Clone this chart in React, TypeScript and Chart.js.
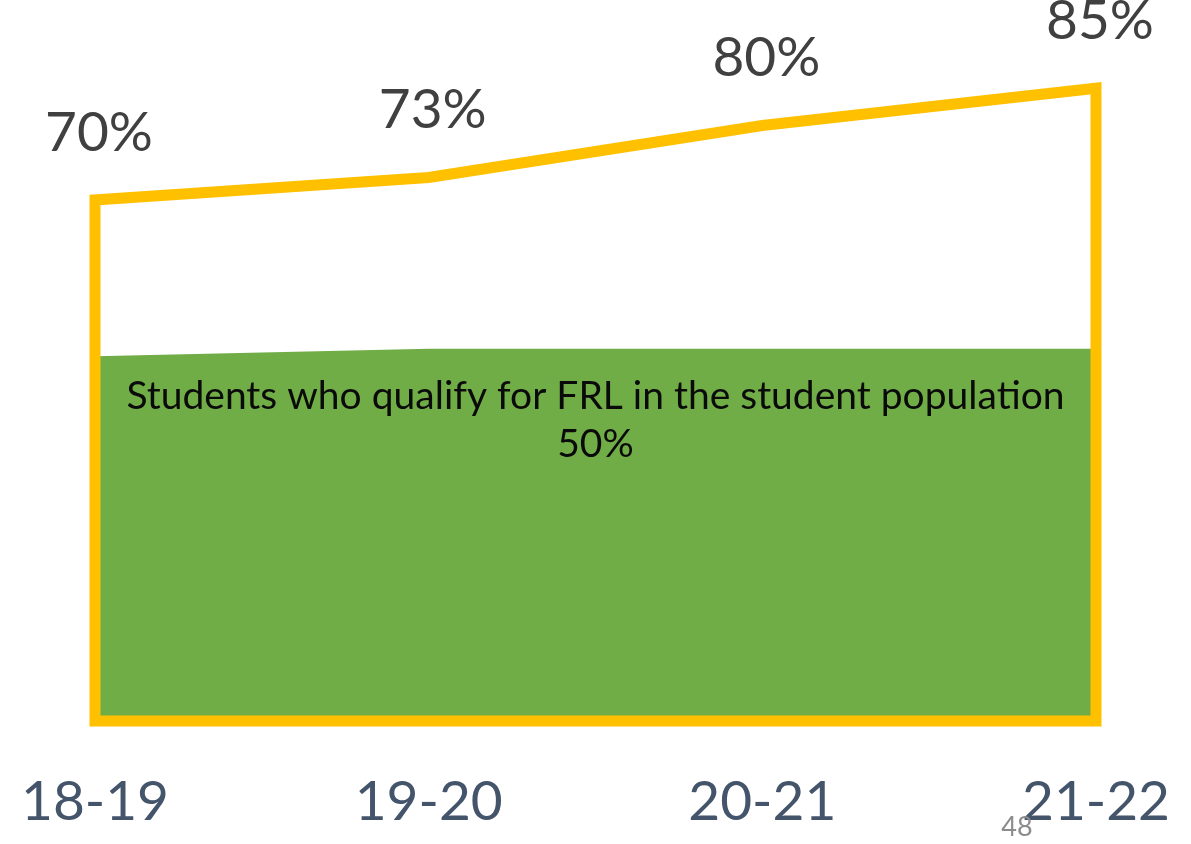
import React, { useEffect, useRef } from "react";
import { Chart, registerables } from "chart.js";

Chart.register(...registerables);

const categories = ["18-19", "19-20", "20-21", "21-22"];
const frlRates = [70, 73, 80, 85];
const populationRates = [49, 50, 50, 50];
const populationLabel = "Students who qualify for FRL in the student population";
const populationValueLabel = "50%";
const pageNumber = "48";

const FONT = "Lato, 'Open Sans', sans-serif";

export default function App() {
  const ref = useRef<HTMLCanvasElement | null>(null);

  useEffect(() => {
    if (!ref.current) return;

    const outline = [
      { x: 0, y: 0 },
      ...frlRates.map((v, i) => ({ x: i, y: v })),
      { x: frlRates.length - 1, y: 0 },
      { x: 0, y: 0 },
    ];
    const green = populationRates.map((v, i) => ({ x: i, y: v }));

    const labelsPlugin = {
      id: "labelsPlugin",
      afterDatasetsDraw(chart: any) {
        const { ctx, scales } = chart;
        const xs = scales.x;
        const ys = scales.y;
        ctx.save();
        ctx.font = `55px ${FONT}`;
        ctx.fillStyle = "#404040";
        ctx.textAlign = "center";
        ctx.textBaseline = "middle";
        frlRates.forEach((v, i) => {
          ctx.fillText(`${v}%`, xs.getPixelForValue(i) + 4, ys.getPixelForValue(v) - 67);
        });
        const cx = (chart.chartArea.left + chart.chartArea.right) / 2;
        const gy = ys.getPixelForValue(populationRates[populationRates.length - 1]);
        ctx.font = `39px ${FONT}`;
        ctx.fillStyle = "#0a0a0a";
        ctx.fillText(populationLabel, cx, gy + 48);
        ctx.fillText(populationValueLabel, cx, gy + 96);
        ctx.restore();
      },
      afterDraw(chart: any) {
        const { ctx } = chart;
        ctx.save();
        ctx.font = `27px ${FONT}`;
        ctx.fillStyle = "#8c8c8c";
        ctx.textAlign = "center";
        ctx.textBaseline = "middle";
        ctx.fillText(pageNumber, 1017, 827);
        ctx.restore();
      },
    };

    const chart = new Chart(ref.current, {
      type: "line",
      data: {
        datasets: [
          {
            label: "FRL",
            data: outline,
            borderColor: "#FFC000",
            borderWidth: 11,
            borderJoinStyle: "miter",
            borderCapStyle: "square",
            fill: false,
            pointRadius: 0,
            tension: 0,
            order: 0,
            clip: false,
          },
          {
            label: "Population",
            data: green,
            borderWidth: 0,
            borderColor: "rgba(0,0,0,0)",
            backgroundColor: "#70AD47",
            fill: "origin",
            pointRadius: 0,
            tension: 0,
            order: 1,
          },
        ],
      },
      options: {
        responsive: false,
        animation: false,
        layout: { padding: { left: 95, right: 95, top: 51, bottom: 9 } },
        plugins: { legend: { display: false }, tooltip: { enabled: false } },
        scales: {
          x: {
            type: "linear",
            min: 0,
            max: categories.length - 1,
            grid: { display: false, drawTicks: false },
            border: { display: false },
            afterFit: (scale: any) => {
              scale.height = 114;
              scale.paddingLeft = 0;
              scale.paddingRight = 0;
            },
            ticks: {
              stepSize: 1,
              padding: 48,
              color: "#44546A",
              font: { family: FONT, size: 55 },
              maxRotation: 0,
              callback: (v: any) => categories[v] ?? "",
            },
          },
          y: {
            display: false,
            min: 0,
            max: 90,
          },
        },
      },
      plugins: [labelsPlugin],
    });

    return () => chart.destroy();
  }, []);

  return (
    <div style={{ position: "fixed", left: 0, top: 0, width: 1191, height: 844, background: "#fff" }}>
      <canvas ref={ref} width={1191} height={844} />
    </div>
  );
}
